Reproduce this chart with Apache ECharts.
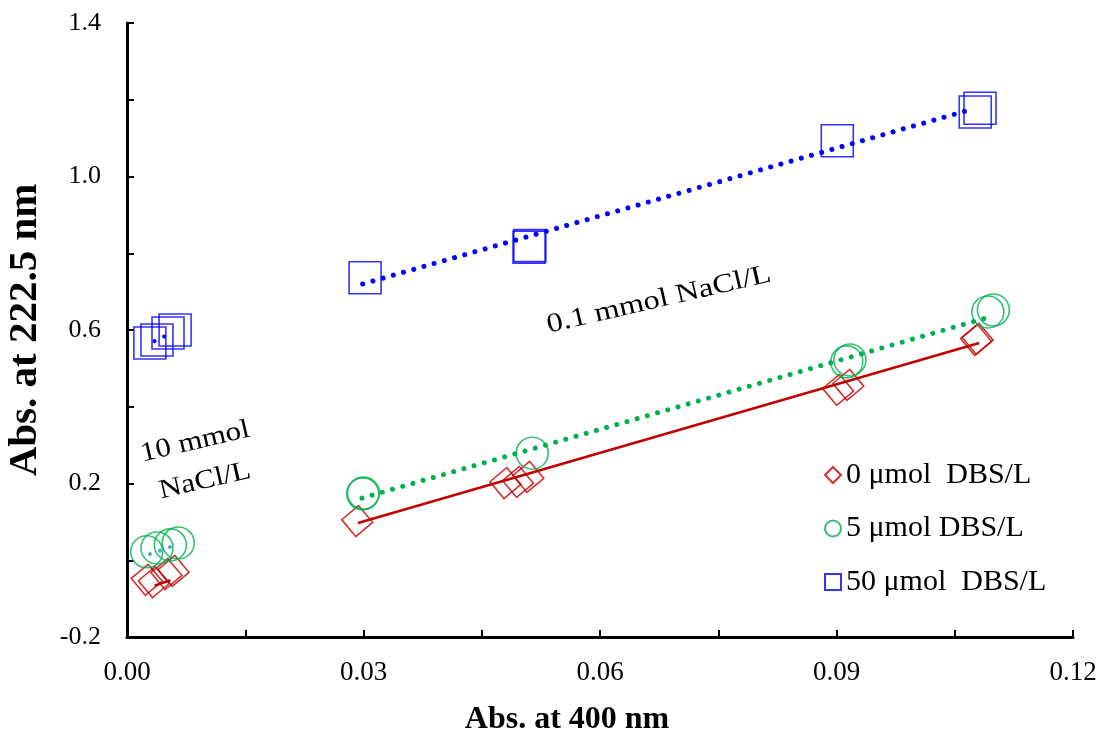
<!DOCTYPE html>
<html>
<head>
<meta charset="utf-8">
<script src="https://cdn.jsdelivr.net/npm/echarts@6/dist/echarts.min.js"></script>
<style>html,body{margin:0;padding:0;background:#fff;}#c{width:1105px;height:742px;}</style>
</head>
<body>
<div id="c"></div>
<script>
// ---- data ----
var seriesNames = ['0 μmol  DBS/L', '5 μmol DBS/L', '50 μmol  DBS/L'];
// 0 µmol DBS/L
var red10X = [0.0025, 0.0034, 0.0050, 0.0059];
var red10Y = [-0.051, -0.057, -0.036, -0.028];
var red01X = [0.0292, 0.0480, 0.0496, 0.0509, 0.0902, 0.0915, 0.1077, 0.1079];
var red01Y = [0.102, 0.201, 0.204, 0.217, 0.444, 0.457, 0.574, 0.577];
// 5 µmol DBS/L
var green10X = [0.0025, 0.0038, 0.0055, 0.0065];
var green10Y = [0.022, 0.032, 0.040, 0.045];
var green01X = [0.0299, 0.0300, 0.0514, 0.0913, 0.0917, 0.1092, 0.1099];
var green01Y = [0.173, 0.175, 0.279, 0.517, 0.522, 0.647, 0.652];
// 50 µmol DBS/L
var blue10X = [0.0029, 0.0038, 0.0052, 0.0061];
var blue10Y = [0.566, 0.574, 0.592, 0.600];
var blue01X = [0.0302, 0.0510, 0.0511, 0.0901, 0.1076, 0.1082];
var blue01Y = [0.736, 0.816, 0.820, 1.093, 1.168, 1.178];
// trend lines [x0, x1], [y0, y1]
var redFitX = [0.0293, 0.1081], redFitY = [0.097, 0.566];
var greenFitX = [0.0298, 0.1099], greenFitY = [0.162, 0.637];
var blueFitX = [0.0299, 0.1073], blueFitY = [0.720, 1.176];
var red10FitX = [0.0035, 0.0055], red10FitY = [-0.066, -0.052];
var green10FitX = [0.0029, 0.0058], green10FitY = [0.016, 0.037];
var blue10FitX = [0.0035, 0.0052], blue10FitY = [0.571, 0.588];
// axis
var xMin = 0, xMax = 0.12, xStep = 0.015;
var yMin = -0.2, yMax = 1.4, yStep = 0.2;

function pairs(xs, ys) { return xs.map(function (x, i) { return [x, ys[i]]; }); }

var serif = '"Liberation Serif", "Times New Roman", serif';
var RED = '#C00000', GREEN = '#00B050', BLUE = '#0000FF', LBLUE = '#4BACC6';

function scatter(name, data, symbol, size, color, rot) {
  return {
    name: name, type: 'scatter', data: data, symbol: symbol, symbolSize: size,
    symbolRotate: rot || 0,
    itemStyle: { color: 'rgba(0,0,0,0)', borderColor: color, borderWidth: 1.6 },
    z: 3
  };
}
function fit(data, color, dotted, width) {
  return {
    type: 'line', data: data, symbol: 'none', silent: true, z: 2,
    lineStyle: dotted ? { color: color, width: width || 5, type: [0.01, 10.6], cap: 'round' }
                      : { color: color, width: width || 2.5 }
  };
}

var chart = echarts.init(document.getElementById('c'), null, { renderer: 'canvas' });
chart.setOption({
  animation: false,
  backgroundColor: '#fff',
  grid: { left: 127, right: 32, top: 23, bottom: 105, containLabel: false, outerBoundsMode: 'none' },
  xAxis: {
    type: 'value', min: xMin, max: xMax, interval: xStep,
    name: 'Abs. at 400 nm', nameLocation: 'middle', nameGap: 67,
    nameTextStyle: { fontFamily: serif, fontSize: 32, fontWeight: 'bold', color: '#000', padding: [0, 66, 0, 0] },
    axisLine: { onZero: false, lineStyle: { color: '#000', width: 3 } },
    axisTick: { inside: true, length: 7, lineStyle: { color: '#000', width: 2 } },
    splitLine: { show: false },
    axisLabel: {
      fontFamily: serif, fontSize: 27, color: '#000', margin: 22,
      formatter: function (v) { return Math.round(v / xStep) % 2 === 0 ? v.toFixed(2) : ''; }
    }
  },
  yAxis: {
    type: 'value', min: yMin, max: yMax, interval: yStep,
    name: 'Abs. at 222.5 nm', nameLocation: 'middle', nameGap: 81, nameRotate: 90,
    nameTextStyle: { fontFamily: serif, fontSize: 41, fontWeight: 'bold', color: '#000' },
    axisLine: { show: true, onZero: false, lineStyle: { color: '#000', width: 3 } },
    axisTick: { show: true, inside: true, length: 7, lineStyle: { color: '#000', width: 2 } },
    splitLine: { show: false },
    axisLabel: {
      fontFamily: serif, fontSize: 26, color: '#000', margin: 26,
      formatter: function (v) { return Math.round((v - yMin) / yStep) % 2 === 0 ? v.toFixed(1) : ''; }
    }
  },
  legend: {
    data: [{ name: seriesNames[0], icon: 'diamond' }, { name: seriesNames[1] }, { name: seriesNames[2] }],
    orient: 'vertical', left: 819, top: 455, itemGap: 23.5,
    itemWidth: 16, itemHeight: 16,
    textStyle: { fontFamily: serif, fontSize: 30, color: '#000', lineHeight: 30 }
  },
  series: [
    fit(pairs(redFitX, redFitY), RED, false),
    fit(pairs(greenFitX, greenFitY), GREEN, true),
    fit(pairs(blueFitX, blueFitY), BLUE, true),
    fit(pairs(red10FitX, red10FitY), RED, false, 2.5),
    fit(pairs(green10FitX, green10FitY), LBLUE, true, 4),
    fit(pairs(blue10FitX, blue10FitY), BLUE, true, 4),
    scatter(seriesNames[0], pairs(red10X, red10Y).concat(pairs(red01X, red01Y)), 'rect', 22, RED, 40),
    scatter(seriesNames[1], pairs(green10X, green10Y).concat(pairs(green01X, green01Y)), 'circle', 32, GREEN),
    scatter(seriesNames[2], pairs(blue10X, blue10Y).concat(pairs(blue01X, blue01Y)), 'rect', 32, BLUE)
  ],
  graphic: [
    { type: 'text', x: 659, y: 300, rotation: 13 * Math.PI / 180, scaleX: 1.2,
      style: { text: '0.1 mmol NaCl/L', font: '27px ' + serif, fill: '#000', align: 'center', verticalAlign: 'middle' } },
    { type: 'text', x: 195, y: 442, rotation: 13 * Math.PI / 180, scaleX: 1.15,
      style: { text: '10 mmol', font: '27px ' + serif, fill: '#000', align: 'center', verticalAlign: 'middle' } },
    { type: 'text', x: 205, y: 481, rotation: 13 * Math.PI / 180, scaleX: 1.15,
      style: { text: 'NaCl/L', font: '27px ' + serif, fill: '#000', align: 'center', verticalAlign: 'middle' } }
  ]
});
</script>
</body>
</html>
